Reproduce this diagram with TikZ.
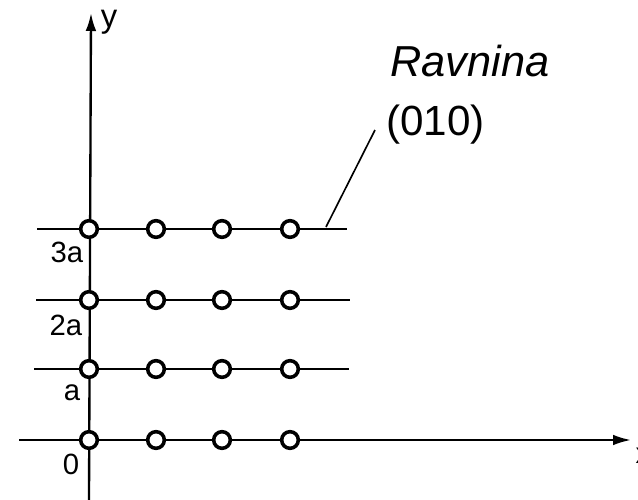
\documentclass[tikz,border=0pt]{standalone}
\usepackage{fontspec}
\setmainfont{Liberation Sans}
\usetikzlibrary{arrows.meta}
\begin{document}
\begin{tikzpicture}[x=0.03cm,y=-0.03cm,
  ln/.style={line width=2pt},
  atom/.style={circle,draw,line width=3pt,fill=white,minimum size=0.5cm,inner sep=0pt},
  axlbl/.style={font=\fontsize{25}{28}\selectfont},
  big/.style={font=\fontsize{37}{40}\selectfont\itshape,anchor=base west,inner sep=0pt},
  bign/.style={font=\fontsize{36}{40}\selectfont,anchor=base west,inner sep=0pt},
  arr/.style={-{Latex[length=5.4mm,width=3.2mm]}}]
\useasboundingbox (0,0) rectangle (638,500);
\clip (0,0) rectangle (638,500);
% lattice lines
\coordinate (l3s) at (37,229);  \coordinate (l3e) at (347,229);
\coordinate (l2s) at (36,300);  \coordinate (l2e) at (350,300);
\coordinate (l1s) at (34,369);  \coordinate (l1e) at (349,369);
\coordinate (xs) at (19,440);   \coordinate (xe) at (631,440);
\coordinate (ys) at (89,500);   \coordinate (ye) at (91,13);
\draw[ln] (l3s) -- (l3e);
\draw[ln] (l2s) -- (l2e);
\draw[ln] (l1s) -- (l1e);
\draw[ln,arr] (xs) -- (xe);
\draw[ln,arr] (ys) -- (ye);
% atoms
\foreach \r/\yy in {0/440,1/369,2/300,3/229}{
  \foreach \c/\xx in {0/89,1/156,2/222,3/290}{
    \node[atom] (a\r\c) at (\xx,\yy) {};
  }
}
% axis labels
\node[font=\fontsize{28}{30}\selectfont,inner sep=0pt] (ylab) at (109,22) {y};
\node[axlbl] (xlab) at (643,456) {x};
\node[axlbl] (t3) at (67,252) {3a};
\node[axlbl] (t2) at (66,325) {2a};
\node[axlbl] (t1) at (72,393) {a};
\node[axlbl] (t0) at (71,464) {0};
% plane label
\node[big] (rav) at (390,76) {Ravnina};
\node[bign] (mil) at (386,135) {(010)};
\coordinate (lda) at (375,130);
\coordinate (ldb) at (326,227);
\draw[line width=1.4pt] (lda) -- (ldb);
\end{tikzpicture}
\end{document}
